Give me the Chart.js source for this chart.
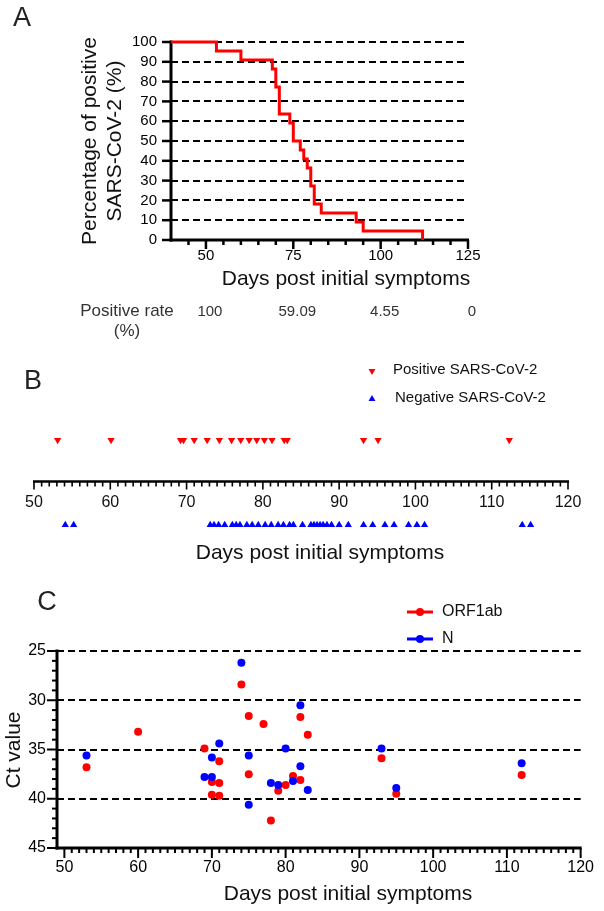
<!DOCTYPE html>
<html><head><meta charset="utf-8">
<script src="https://cdn.jsdelivr.net/npm/chart.js@4"></script>
<style>
html,body{margin:0;padding:0;background:#fff;width:604px;height:911px;overflow:hidden}
canvas{position:absolute;left:0;top:0}
</style></head><body>
<canvas id="cA" width="604" height="911"></canvas>
<canvas id="cB" width="604" height="911"></canvas>
<canvas id="cC" width="604" height="911"></canvas>
<script>
const FONT = "'Liberation Sans', Arial, Helvetica, sans-serif";

// ---------- Panel A data ----------
const kmDays    = [40, 53, 60, 69, 70, 71, 74, 75, 77, 78, 79, 80, 81, 83, 93, 95, 112];
const kmPercent = [100, 95.45, 90.91, 86.36, 77.27, 63.64, 59.09, 50, 45.45, 40.91, 36.36, 27.27, 18.18, 13.64, 9.09, 4.55, 0];
const aXTicks = [50, 75, 100, 125];
const aYTicks = [0, 10, 20, 30, 40, 50, 60, 70, 80, 90, 100];
const rateDays = [50, 75, 100, 125];
const rateLabels = ['100', '59.09', '4.55', '0'];

// ---------- Panel B data ----------
const positiveDays = [53.1, 60.1, 69.2, 69.6, 71.0, 72.7, 74.3, 75.9, 77.1, 78.2, 79.2, 80.2, 81.2, 82.8, 83.2, 93.2, 95.1, 112.3];
const negativeDays = [54.1, 55.2, 73.1, 73.6, 74.2, 75.0, 76.0, 76.5, 77.0, 77.9, 78.6, 79.4, 80.3, 81.1, 82.0, 82.7, 83.5, 84.0,
                      85.2, 86.3, 86.7, 87.1, 87.5, 87.9, 88.4, 89.0, 90.0, 91.2, 93.2, 94.4, 96.0, 97.2, 99.1, 100.2, 101.2, 114.0, 115.1];
const bXTicks = [50, 60, 70, 80, 90, 100, 110, 120];

// ---------- Panel C data ----------
const orfDays = [53, 60, 69, 70, 70, 71, 71, 71, 74, 75, 75, 77, 78, 79, 80, 81, 82, 82, 83, 93, 95, 112];
const orfCt   = [36.8, 33.2, 34.9, 38.3, 39.6, 36.2, 38.4, 39.7, 28.4, 31.6, 37.5, 32.4, 42.2, 39.2, 38.6, 37.7, 31.7, 38.1, 33.5, 35.9, 39.5, 37.6];
const nDays   = [53, 69, 70, 70, 71, 74, 75, 75, 78, 79, 80, 81, 82, 82, 83, 93, 95, 112];
const nCt     = [35.6, 37.8, 35.8, 37.8, 34.4, 26.2, 35.6, 40.6, 38.4, 38.6, 34.9, 38.2, 30.5, 36.7, 39.1, 34.9, 38.9, 36.4];
const cXTicks = [50, 60, 70, 80, 90, 100, 110, 120];
const cYTicks = [25, 30, 35, 40, 45];

// ---------- helpers ----------
function seg(ctx, x1, y1, x2, y2) { ctx.beginPath(); ctx.moveTo(x1, y1); ctx.lineTo(x2, y2); ctx.stroke(); }
function txt(ctx, s, x, y, size, o) {
  o = o || {};
  ctx.save();
  ctx.font = size + 'px ' + FONT;
  ctx.fillStyle = o.color || '#000';
  ctx.textAlign = o.align || 'center';
  ctx.textBaseline = o.baseline || 'middle';
  if (o.rot) { ctx.translate(x, y); ctx.rotate(o.rot); ctx.fillText(s, 0, 0); }
  else ctx.fillText(s, x, y);
  ctx.restore();
}
function tri(ctx, x, y, r, down, color) {
  ctx.save(); ctx.fillStyle = color; ctx.beginPath();
  const s = down ? -1 : 1;
  ctx.moveTo(x, y - s * r);
  ctx.lineTo(x + r * 0.866, y + s * r * 0.5);
  ctx.lineTo(x - r * 0.866, y + s * r * 0.5);
  ctx.closePath(); ctx.fill(); ctx.restore();
}
const base = { responsive: false, animation: false, devicePixelRatio: 1, events: [],
  plugins: { legend: { display: false }, tooltip: { enabled: false } } };
const tickFont = s => ({ size: s, family: FONT });

// ---------- Panel A ----------
const plugA = {
  id: 'plugA',
  beforeDatasetsDraw(chart) {
    const { ctx, scales: { x, y } } = chart;
    const x0 = x.getPixelForValue(40), x1 = x.getPixelForValue(125);
    const y0 = y.getPixelForValue(0), y1 = y.getPixelForValue(100);
    ctx.save(); ctx.strokeStyle = '#000';
    ctx.lineWidth = 3;
    seg(ctx, x0, y1 - 1.5, x0, y0 + 1.5);
    seg(ctx, x0 - 1.5, y0, x1 + 1, y0);
    ctx.lineWidth = 2.5;
    aYTicks.forEach(v => { const p = y.getPixelForValue(v); seg(ctx, x0 - 9, p, x0, p); });
    for (let d = 45; d <= 125; d += 5) {
      const p = x.getPixelForValue(d);
      seg(ctx, p, y0, p, y0 + (aXTicks.includes(d) ? 9 : 5));
    }
    ctx.restore();
  },
  afterDraw(chart) {
    const { ctx, scales: { x } } = chart;
    txt(ctx, 'A', 22, 19, 27, { color: '#222' });
    txt(ctx, 'Percentage of positive', 90, 141, 21, { rot: -Math.PI / 2, color: '#111' });
    txt(ctx, 'SARS-CoV-2 (%)', 115, 141, 21, { rot: -Math.PI / 2, color: '#111' });
    txt(ctx, 'Days post initial symptoms', 346, 279, 21, { color: '#111' });
    txt(ctx, 'Positive rate', 127, 311, 17, { color: '#333' });
    txt(ctx, '(%)', 127, 331, 17, { color: '#333' });
    rateDays.forEach((d, i) => txt(ctx, rateLabels[i], x.getPixelForValue(d) + 4, 312, 15, { color: '#333' }));
  }
};
new Chart(document.getElementById('cA'), {
  type: 'scatter',
  data: { datasets: [{
    data: kmDays.map((d, i) => ({ x: d, y: kmPercent[i] })),
    showLine: true, stepped: true, borderColor: '#ff0000', borderWidth: 3,
    pointRadius: 0, fill: false, clip: false, borderCapStyle: 'butt', borderJoinStyle: 'miter'
  }] },
  options: Object.assign({}, base, {
    layout: { padding: { left: 111, right: 136, top: 42, bottom: 641 } },
    scales: {
      x: { type: 'linear', min: 40, max: 125,
        afterBuildTicks: s => { s.ticks = aXTicks.map(v => ({ value: v })); },
        afterFit: s => { s.height = 30; },
        grid: { display: false, drawTicks: false }, border: { display: false },
        ticks: { font: tickFont(15), color: '#000', padding: 7, maxRotation: 0, autoSkip: false } },
      y: { type: 'linear', min: 0, max: 100,
        afterBuildTicks: s => { s.ticks = aYTicks.map(v => ({ value: v })); },
        afterFit: s => { s.width = 60; },
        grid: { drawTicks: false, lineWidth: 2, color: c => (c.tick && c.tick.value === 0) ? 'rgba(0,0,0,0)' : '#000' },
        border: { display: false, dash: [7, 4] },
        ticks: { font: tickFont(15), color: '#000', padding: 14, autoSkip: false } }
    }
  }),
  plugins: [plugA]
});

// ---------- Panel B ----------
const plugB = {
  id: 'plugB',
  afterDraw(chart) {
    const { ctx, scales: { x, y } } = chart;
    const ya = y.getPixelForValue(0) - 1;
    const x0 = x.getPixelForValue(50), x1 = x.getPixelForValue(120);
    ctx.save(); ctx.strokeStyle = '#000'; ctx.lineWidth = 2.5;
    seg(ctx, x0 - 1, ya, x1 + 1, ya);
    ctx.lineWidth = 1.6;
    for (let d = 50; d <= 120; d++) {
      const p = x.getPixelForValue(d);
      seg(ctx, p, ya, p, ya + (bXTicks.includes(d) ? 8 : 5));
    }
    ctx.restore();
    bXTicks.forEach(v => txt(ctx, String(v), x.getPixelForValue(v), 503, 16, { color: '#111' }));
    txt(ctx, 'Days post initial symptoms', 320, 553, 21, { color: '#111' });
    txt(ctx, 'B', 33, 382, 27, { color: '#222' });
    tri(ctx, 372, 371, 4, true, '#ff0000');
    txt(ctx, 'Positive SARS-CoV-2', 393, 370, 15, { align: 'left', color: '#111' });
    tri(ctx, 372, 399, 4, false, '#0000ff');
    txt(ctx, 'Negative SARS-CoV-2', 395, 398, 15, { align: 'left', color: '#111' });
  }
};
new Chart(document.getElementById('cB'), {
  type: 'scatter',
  data: { datasets: [
    { data: positiveDays.map(d => ({ x: d, y: 1 })), pointStyle: 'triangle', rotation: 180,
      pointRadius: 4.2, pointBorderWidth: 0, backgroundColor: '#ff0000', borderColor: '#ff0000', clip: false },
    { data: negativeDays.map(d => ({ x: d, y: -1 })), pointStyle: 'triangle', rotation: 0,
      pointRadius: 4.2, pointBorderWidth: 0, backgroundColor: '#0000ff', borderColor: '#0000ff', clip: false }
  ] },
  options: Object.assign({}, base, {
    layout: { padding: { left: 34, right: 36, top: 440, bottom: 386 } },
    scales: {
      x: { type: 'linear', min: 50, max: 120, display: false },
      y: { type: 'linear', min: -1, max: 1, display: false }
    }
  }),
  plugins: [plugB]
});

// ---------- Panel C ----------
const plugC = {
  id: 'plugC',
  beforeDatasetsDraw(chart) {
    const { ctx, scales: { x, y } } = chart;
    const xl = x.getPixelForValue(49), xr = x.getPixelForValue(120);
    const yt = y.getPixelForValue(25), yb = y.getPixelForValue(45);
    ctx.save(); ctx.strokeStyle = '#000'; ctx.lineWidth = 3;
    seg(ctx, xl, yt - 1.5, xl, yb + 1.5);
    seg(ctx, xl - 1.5, yb, xr + 1, yb);
    ctx.lineWidth = 2;
    for (let v = 25; v <= 45; v++) {
      const p = y.getPixelForValue(v);
      seg(ctx, xl - (cYTicks.includes(v) ? 10 : 5), p, xl, p);
    }
    for (let d = 50; d <= 120; d++) {
      const p = x.getPixelForValue(d);
      seg(ctx, p, yb, p, yb + (cXTicks.includes(d) ? 10 : 5));
    }
    ctx.restore();
  },
  afterDraw(chart) {
    const { ctx } = chart;
    txt(ctx, 'C', 47, 603, 27, { color: '#222' });
    txt(ctx, 'Ct value', 14, 750, 21, { rot: -Math.PI / 2, color: '#111' });
    txt(ctx, 'Days post initial symptoms', 348, 894, 21, { color: '#111' });
    ctx.save();
    ctx.lineWidth = 3;
    ctx.strokeStyle = '#ff0000'; seg(ctx, 407, 612, 433, 612);
    ctx.fillStyle = '#ff0000'; ctx.beginPath(); ctx.arc(420, 612, 4, 0, 2 * Math.PI); ctx.fill();
    ctx.strokeStyle = '#0000ff'; seg(ctx, 407, 639, 433, 639);
    ctx.fillStyle = '#0000ff'; ctx.beginPath(); ctx.arc(420, 639, 4, 0, 2 * Math.PI); ctx.fill();
    ctx.restore();
    txt(ctx, 'ORF1ab', 442, 612, 16, { align: 'left', color: '#111' });
    txt(ctx, 'N', 442, 639, 16, { align: 'left', color: '#111' });
  }
};
new Chart(document.getElementById('cC'), {
  type: 'scatter',
  data: { datasets: [
    { label: 'N', data: nDays.map((d, i) => ({ x: d, y: nCt[i] })),
      pointRadius: 4, pointBorderWidth: 0, backgroundColor: '#0000ff', borderColor: '#0000ff', clip: false },
    { label: 'ORF1ab', data: orfDays.map((d, i) => ({ x: d, y: orfCt[i] })),
      pointRadius: 4, pointBorderWidth: 0, backgroundColor: '#ff0000', borderColor: '#ff0000', clip: false }
  ] },
  options: Object.assign({}, base, {
    layout: { padding: { left: 7, right: 19, top: 651, bottom: 33 } },
    scales: {
      x: { type: 'linear', min: 49, max: 120,
        afterBuildTicks: s => { s.ticks = cXTicks.map(v => ({ value: v })); },
        afterFit: s => { s.height = 30; },
        grid: { display: false, drawTicks: false }, border: { display: false },
        ticks: { font: tickFont(16), color: '#000', padding: 10, maxRotation: 0, autoSkip: false } },
      y: { type: 'linear', min: 25, max: 45, reverse: true,
        afterBuildTicks: s => { s.ticks = cYTicks.map(v => ({ value: v })); },
        afterFit: s => { s.width = 50; },
        grid: { drawTicks: false, lineWidth: 2, color: c => (c.tick && c.tick.value === 45) ? 'rgba(0,0,0,0)' : '#000' },
        border: { display: false, dash: [7, 4] },
        ticks: { font: tickFont(16), color: '#000', padding: 11, autoSkip: false } }
    }
  }),
  plugins: [plugC]
});
</script>
</body></html>
